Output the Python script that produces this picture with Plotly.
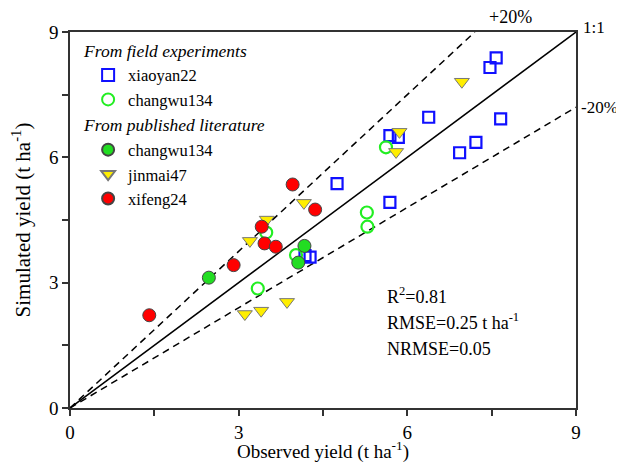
import plotly.graph_objects as go

# ---- data ----
xiaoyan22_obs = [7.58, 7.47, 6.38, 7.66, 5.69, 5.84, 7.22, 6.93, 4.75, 5.69, 4.18, 4.27]
xiaoyan22_sim = [8.38, 8.15, 6.96, 6.92, 6.52, 6.48, 6.36, 6.11, 5.37, 4.92, 3.65, 3.61]

changwu_field_obs = [5.62, 5.28, 5.29, 3.49, 4.02, 3.34]
changwu_field_sim = [6.24, 4.68, 4.34, 4.20, 3.66, 2.86]

changwu_lit_obs = [2.47, 4.17, 4.06]
changwu_lit_sim = [3.12, 3.88, 3.48]

jinmai47_obs = [6.97, 5.86, 5.80, 3.50, 4.16, 3.20, 3.86, 3.40, 3.11]
jinmai47_sim = [7.81, 6.61, 6.13, 4.51, 4.91, 4.00, 2.54, 2.33, 2.25]

xifeng24_obs = [3.96, 4.36, 3.41, 3.46, 3.66, 2.91, 1.41]
xifeng24_sim = [5.35, 4.75, 4.34, 3.94, 3.86, 3.42, 2.22]

line_x = [0, 9]
upper_ratio = 1.25
lower_ratio = 0.8
axis_max = 9
tick_vals = [0, 3, 6, 9]
minor_vals = [1.5, 4.5, 7.5]

FONT = "Liberation Serif"

fig = go.Figure()

# reference lines
fig.add_trace(go.Scatter(x=line_x, y=line_x, mode="lines",
                         line=dict(color="black", width=1.5), showlegend=False, hoverinfo="skip"))
fig.add_trace(go.Scatter(x=[0, axis_max / upper_ratio], y=[0, axis_max], mode="lines",
                         line=dict(color="black", width=1.5, dash="7px,5px"), showlegend=False, hoverinfo="skip"))
fig.add_trace(go.Scatter(x=line_x, y=[v * lower_ratio for v in line_x], mode="lines",
                         line=dict(color="black", width=1.5, dash="7px,5px"), showlegend=False, hoverinfo="skip"))

grp_font = dict(family=FONT, size=17.5, color="black", style="italic")

fig.add_trace(go.Scatter(
    x=xiaoyan22_obs, y=xiaoyan22_sim, mode="markers", name="xiaoyan22",
    legendgroup="field", legendgrouptitle=dict(text="From field experiments", font=grp_font),
    marker=dict(symbol="square-open", size=11, color="#1010ff", line=dict(width=2.2, color="#1010ff"))))
fig.add_trace(go.Scatter(
    x=changwu_field_obs, y=changwu_field_sim, mode="markers", name="changwu134",
    legendgroup="field",
    marker=dict(symbol="circle-open", size=12, color="#22ee22", line=dict(width=2.2, color="#22ee22"))))
fig.add_trace(go.Scatter(
    x=changwu_lit_obs, y=changwu_lit_sim, mode="markers", name="changwu134",
    legendgroup="lit", legendgrouptitle=dict(text="From published literature", font=grp_font),
    marker=dict(symbol="circle", size=13, color="#22dd22", line=dict(width=1, color="#444444"))))
fig.add_trace(go.Scatter(
    x=jinmai47_obs, y=jinmai47_sim, mode="markers", name="jinmai47",
    legendgroup="lit",
    marker=dict(symbol="triangle-down", size=13, color="#ffee00", line=dict(width=1, color="#777777"))))
fig.add_trace(go.Scatter(
    x=xifeng24_obs, y=xifeng24_sim, mode="markers", name="xifeng24",
    legendgroup="lit",
    marker=dict(symbol="circle", size=13, color="#ff0000", line=dict(width=1, color="#444444"))))

ann_font = dict(family=FONT, size=18, color="black")
edge_font = dict(family=FONT, size=17, color="black")
annotations = [
    dict(x=0.87, y=1.04, text="+20%", showarrow=False, xref="paper", yref="paper",
         font=ann_font, xanchor="center", yanchor="middle"),
    dict(x=1.01, y=1.013, text="1:1", showarrow=False, xref="paper", yref="paper",
         font=edge_font, xanchor="left", yanchor="middle"),
    dict(x=1.006, y=0.798, text="-20%", showarrow=False, xref="paper", yref="paper",
         font=edge_font, xanchor="left", yanchor="middle"),
    dict(x=5.6, y=2.7, text="R<sup>2</sup>=0.81", showarrow=False, xref="x", yref="y",
         font=ann_font, xanchor="left", yanchor="middle"),
    dict(x=5.6, y=2.06, text="RMSE=0.25 t ha<sup>-1</sup>", showarrow=False, xref="x", yref="y",
         font=ann_font, xanchor="left", yanchor="middle"),
    dict(x=5.6, y=1.41, text="NRMSE=0.05", showarrow=False, xref="x", yref="y",
         font=ann_font, xanchor="left", yanchor="middle"),
]

axis_common = dict(
    range=[0, axis_max], tickvals=tick_vals, ticks="outside", ticklen=6, tickwidth=1.5,
    tickcolor="#333333", showline=True, linecolor="#333333", linewidth=1.5, mirror=True,
    showgrid=False, zeroline=False, tickfont=dict(family=FONT, size=19, color="black"),
    automargin=False,
    minor=dict(tickvals=minor_vals, ticks="outside", ticklen=6, tickwidth=1.5, tickcolor="#333333"),
)

fig.update_layout(
    width=616, height=455,
    margin=dict(l=62, r=48, t=24, b=55),
    plot_bgcolor="white", paper_bgcolor="white",
    font=dict(family=FONT, size=17, color="black"),
    xaxis=dict(title=dict(text="Observed yield (t ha<sup>-1</sup>)", font=dict(family=FONT, size=19)), **axis_common),
    yaxis=dict(title=dict(text="Simulated yield (t ha<sup>-1</sup>)", font=dict(family=FONT, size=21)), **axis_common),
    legend=dict(x=0.018, y=1.0, xanchor="left", yanchor="top", bgcolor="rgba(0,0,0,0)",
                font=dict(family=FONT, size=16.5), tracegroupgap=0, itemsizing="constant",
                indentation=9),
    annotations=annotations,
)

fig.write_html("out.html")
